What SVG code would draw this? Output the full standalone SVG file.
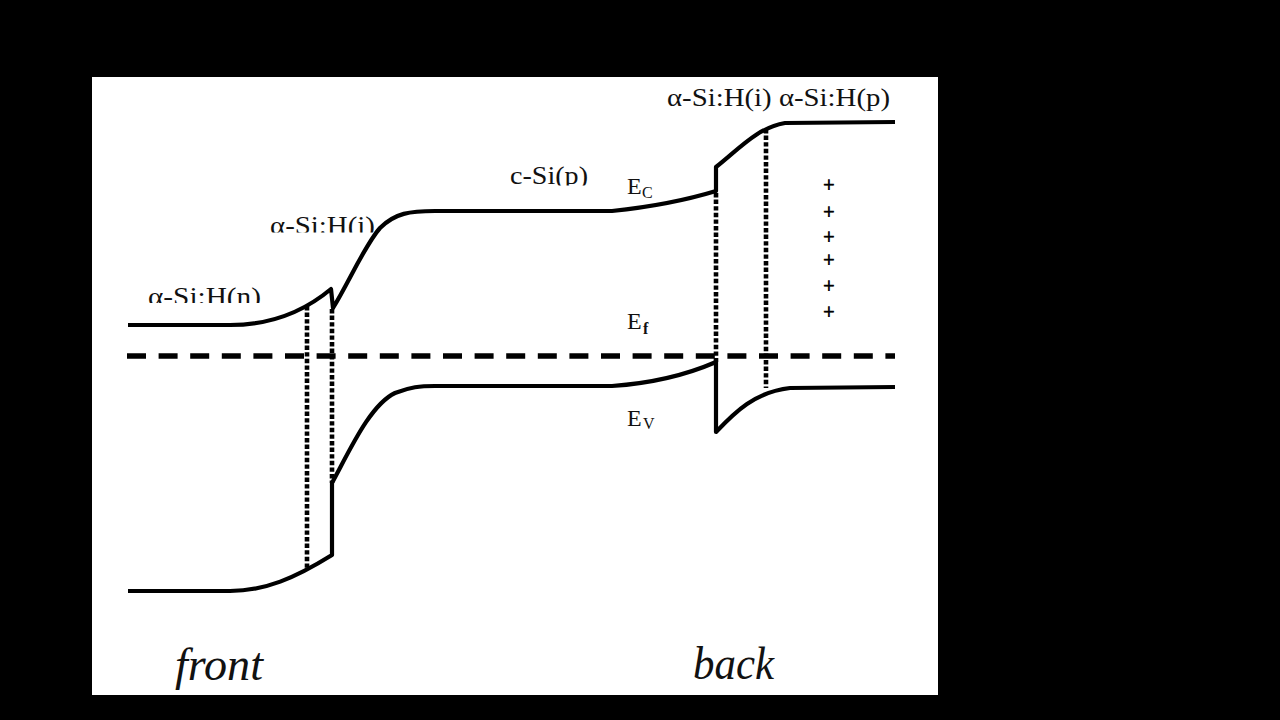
<svg xmlns="http://www.w3.org/2000/svg" width="1280" height="720" viewBox="0 0 1280 720">
  <defs>
    <style>
      .band { fill: none; stroke: #000; stroke-width: 4.2; stroke-linejoin: round; stroke-linecap: butt; }
      .dot { fill: none; stroke: #000; stroke-width: 4.6; stroke-dasharray: 4.4 2.2; }
      .fermi { fill: none; stroke: #000; stroke-width: 5.5; stroke-dasharray: 19 12.6; }
      .lbl { font-family: "Liberation Serif", "Times New Roman", serif; fill: #111; }
      .sub { font-family: "Liberation Serif", "Times New Roman", serif; fill: #111; font-size: 16px; }
      .big { font-family: "Liberation Serif", "Times New Roman", serif; font-style: italic; fill: #111; font-size: 47px; }
      .plus { font-family: "Liberation Serif", "Times New Roman", serif; fill: #000; stroke: #000; stroke-width: 0.7; font-size: 20px; text-anchor: middle; }
    </style>
    <clipPath id="clipN"><rect x="140" y="270" width="140" height="33"/></clipPath>
    <clipPath id="clipI"><rect x="260" y="200" width="130" height="32.5"/></clipPath>
    <clipPath id="clipC"><rect x="500" y="150" width="100" height="35.5"/></clipPath>
  </defs>

  <rect x="0" y="0" width="1280" height="720" fill="#000"/>
  <rect x="92" y="77" width="846" height="618" fill="#fff"/>

  <g id="connectors">
    <!-- Fermi level -->
    <line class="fermi" x1="127" y1="356" x2="895" y2="356"/>
    <!-- Conduction band -->
    <path class="band" d="M128,325 L230,325 C265,325 300,315 331,289 L333,308 C350,280 365,245 380,228 C395,213 410,211 435,211 L612,211 Q670,205 716,191 L716,167 C740,148 757,128 785,123 L895,122"/>
    <!-- Valence band -->
    <path class="band" d="M128,591 L230,591 C265,591 295,578 332,555 L332,483 C350,450 370,405 395,393 C410,387 420,386 435,386 L612,386 Q670,382 716,362 L716,432 C735,412 755,392 790,388 L895,387"/>
    <!-- Interface lines -->
    <line class="dot" x1="307" y1="306" x2="307" y2="569"/>
    <line class="dot" x1="332" y1="309" x2="332" y2="483"/>
    <line class="dot" x1="716" y1="193" x2="716" y2="362"/>
    <line class="dot" x1="766" y1="129" x2="766" y2="388"/>
  </g>

  <g id="label-n"><text class="lbl" x="148" y="305" font-size="26" textLength="113" lengthAdjust="spacingAndGlyphs" clip-path="url(#clipN)">α-Si:H(n)</text></g>
  <g id="label-i-front"><text class="lbl" x="270" y="234" font-size="26" textLength="105" lengthAdjust="spacingAndGlyphs" clip-path="url(#clipI)">α-Si:H(i)</text></g>
  <g id="label-csi"><text class="lbl" x="510" y="184" font-size="26" textLength="78" lengthAdjust="spacingAndGlyphs" clip-path="url(#clipC)">c-Si(p)</text></g>
  <g id="label-back-layers"><text class="lbl" x="667" y="106" font-size="25.5" textLength="223" lengthAdjust="spacingAndGlyphs">α-Si:H(i) α-Si:H(p)</text></g>

  <g id="label-Ec"><text class="lbl" x="627" y="194" font-size="24">E</text><text class="sub" x="642" y="198">C</text></g>
  <g id="label-Ef"><text class="lbl" x="627" y="329" font-size="24">E</text><text class="sub" x="643" y="334" font-weight="bold">f</text></g>
  <g id="label-Ev"><text class="lbl" x="627" y="426" font-size="24">E</text><text class="sub" x="643" y="429">V</text></g>

  <g id="charges">
    <text class="plus" x="829" y="192">+</text>
    <text class="plus" x="829" y="219">+</text>
    <text class="plus" x="829" y="244">+</text>
    <text class="plus" x="829" y="267">+</text>
    <text class="plus" x="829" y="293">+</text>
    <text class="plus" x="829" y="319">+</text>
  </g>

  <g id="label-front"><text class="big" x="175" y="680" textLength="88" lengthAdjust="spacingAndGlyphs">front</text></g>
  <g id="label-back"><text class="big" x="693" y="679" textLength="81" lengthAdjust="spacingAndGlyphs">back</text></g>
</svg>
